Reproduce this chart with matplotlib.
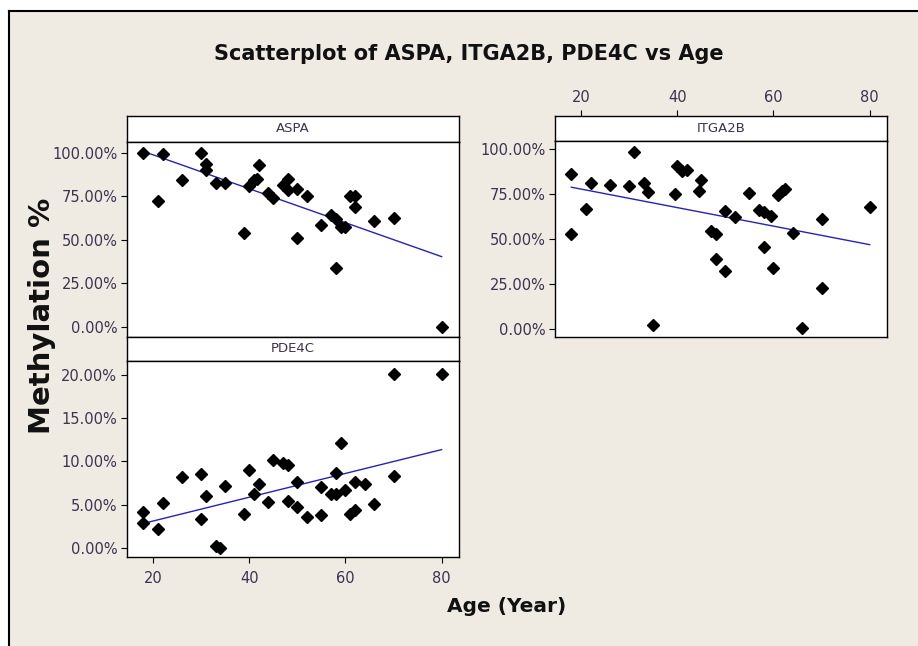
import numpy as np
import matplotlib
matplotlib.use('Agg')
import matplotlib.pyplot as plt
from matplotlib.patches import Rectangle
from matplotlib.lines import Line2D
from matplotlib.ticker import FuncFormatter

# ---- data (age in years, methylation in %) ----
aspa_age = [18, 22, 21, 26, 30, 31, 31, 33, 35, 39, 40, 41, 41.6, 42, 44, 45,
            47, 48, 48, 50, 50, 52, 55, 57, 58, 58, 59, 60, 61, 62, 62, 66,
            70, 80]
aspa_pct = [100, 99, 72.4, 84, 100, 93.5, 90, 82.4, 82.4, 54, 81, 84, 85, 93,
            76.7, 73.8, 81.4, 85, 78.5, 79, 51, 75.3, 58.5, 64, 62, 34, 57.5,
            57.5, 75.3, 75.3, 68.5, 61, 62.6, 0]

itga_age = [18, 18, 21, 22, 26, 30, 31, 33, 34, 35, 39.5, 40, 41, 42, 44.5,
            45, 47, 48, 48, 50, 50, 52, 55, 57, 58, 58, 59.4, 60, 61, 61.8,
            62.5, 64, 66, 70, 70, 80]
itga_pct = [86.4, 52.9, 66.7, 81.3, 80, 79.4, 98.7, 81.3, 76.1, 2.2, 75.1,
            90.7, 87.9, 88.4, 77, 83.2, 54.6, 52.9, 38.9, 65.8, 32.1, 62.1,
            75.7, 66.4, 64.9, 45.8, 62.6, 34, 74.8, 76.6, 77.9, 53.6, 0.6,
            61.1, 22.4, 67.7]

pde_age = [18, 18, 21, 22, 26, 30, 30, 31, 33, 34, 35, 39, 40, 41, 42, 44, 45,
           47, 48, 48, 50, 50, 52, 55, 55, 57, 58, 58, 59, 60, 61, 62, 62, 64,
           66, 70, 70, 80]
pde_pct = [4.2, 2.9, 2.2, 5.2, 8.2, 8.6, 3.4, 6.0, 0.3, 0.0, 7.2, 4.0, 9.0,
           6.3, 7.4, 5.3, 10.2, 9.8, 9.6, 5.5, 7.6, 4.8, 3.6, 7.0, 3.8, 6.3,
           8.7, 6.3, 12.1, 6.7, 4.0, 4.4, 7.6, 7.4, 5.1, 20.1, 8.3, 20.1]

age_ticks = [20, 40, 60, 80]
big_ticks = [0, 25, 50, 75, 100]
small_ticks = [0, 5, 10, 15, 20]

W, H = 918, 646
BG = '#EFEBE3'
TXT = '#3B3350'
LINE = '#2424B0'
XLIM = (14.6, 83.6)


def box(l, t, r, b):
    # pixel box (top-left origin) -> figure fraction
    return [l / W, 1 - b / H, (r - l) / W, (b - t) / H]


pct_fmt = FuncFormatter(lambda v, p: '%.2f%%' % v)

fig = plt.figure(figsize=(W / 100, H / 100), dpi=100, facecolor='white')
fig.patches.append(Rectangle((9 / W, 0), 1, 1 - 11 / H, transform=fig.transFigure,
                             facecolor=BG, edgecolor='none', zorder=-10))
fig.lines.append(Line2D([9 / W, 9 / W], [0, 1 - 11 / H], transform=fig.transFigure,
                        color='black', lw=1.5, zorder=-9))
fig.lines.append(Line2D([9 / W, 1], [1 - 11 / H, 1 - 11 / H], transform=fig.transFigure,
                        color='black', lw=1.5, zorder=-9))


def header(rect, name, top_ticks=False):
    ax = fig.add_axes(box(*rect))
    ax.set_facecolor('white')
    ax.set_xlim(*XLIM)
    ax.set_yticks([])
    if top_ticks:
        ax.set_xticks(age_ticks)
        ax.tick_params(axis='x', direction='out', length=4, labelsize=10.5,
                       labelcolor=TXT, bottom=False, labelbottom=False,
                       top=True, labeltop=True, pad=4)
    else:
        ax.set_xticks([])
    for s in ax.spines.values():
        s.set_linewidth(1)
    ax.text(0.5, 0.5, name, ha='center', va='center', fontsize=9.5, color=TXT,
            transform=ax.transAxes)
    return ax


def panel(rect, ages, vals, ylim, yticks, show_x):
    ax = fig.add_axes(box(*rect))
    ax.set_facecolor('white')
    ax.plot(ages, vals, 'D', color='black', markersize=6.5, zorder=3)
    k, c = np.polyfit(ages, vals, 1)
    xs = np.array([min(ages), max(ages)])
    ax.plot(xs, k * xs + c, color=LINE, lw=1, zorder=2)
    ax.set_xlim(*XLIM)
    ax.set_ylim(*ylim)
    ax.set_yticks(yticks)
    ax.yaxis.set_major_formatter(pct_fmt)
    ax.set_xticks(age_ticks)
    ax.tick_params(axis='y', direction='out', length=4, labelsize=10.5,
                   labelcolor=TXT, pad=3)
    if show_x:
        ax.tick_params(axis='x', direction='out', length=4, labelsize=10.5,
                       labelcolor=TXT, pad=6)
    else:
        ax.tick_params(axis='x', bottom=False, labelbottom=False)
    for s in ax.spines.values():
        s.set_linewidth(1)
    return ax


header((127, 116, 459, 142), 'ASPA')
panel((127, 142, 459, 337), aspa_age, aspa_pct, (-5.9, 106.1), big_ticks, False)

header((127, 337, 459, 361), 'PDE4C')
panel((127, 361, 459, 557), pde_age, pde_pct, (-1.0, 21.56), small_ticks, True)

header((555, 116, 887, 141), 'ITGA2B', top_ticks=True)
panel((555, 141, 887, 337), itga_age, itga_pct, (-4.7, 104.7), big_ticks, False)

fig.text(469 / W, 1 - 54 / H, 'Scatterplot of ASPA, ITGA2B, PDE4C vs Age',
         ha='center', va='center', fontsize=15, fontweight='bold', color='#111111')
fig.text(42 / W, 1 - 316 / H, 'Methylation %', rotation=90, ha='center',
         va='center', fontsize=21, fontweight='bold', color='#111111')
fig.text(507 / W, 1 - 606 / H, 'Age (Year)', ha='center', va='center',
         fontsize=14.5, fontweight='bold', color='#111111')

fig.savefig('out.png', dpi=100, facecolor=fig.get_facecolor())
